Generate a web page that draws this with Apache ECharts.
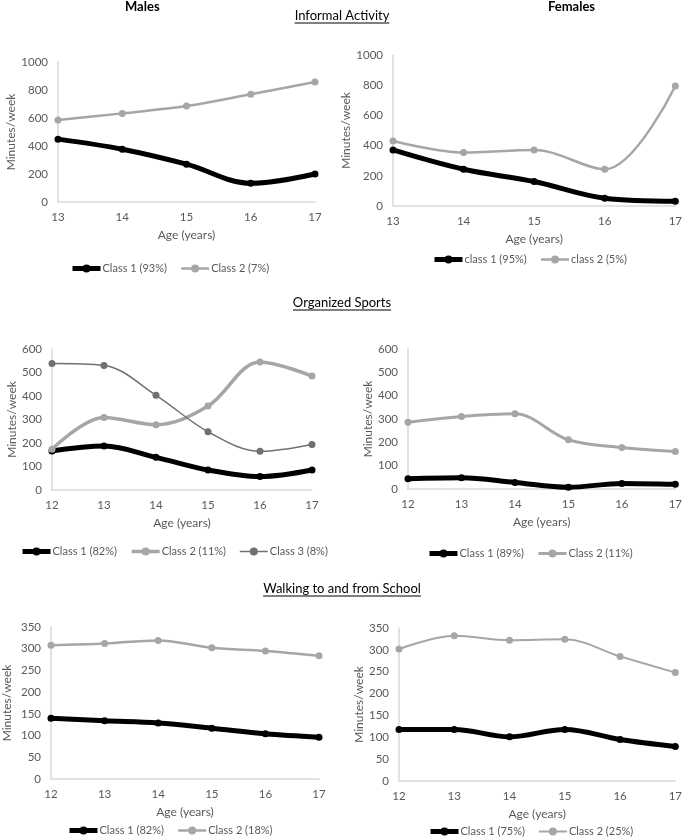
<!DOCTYPE html>
<html>
<head>
<meta charset="utf-8">
<script src="https://cdn.jsdelivr.net/npm/echarts@6/dist/echarts.min.js"></script>
<style>
  html, body { margin: 0; padding: 0; background: #fff; }
  #chart { width: 685px; height: 839px; }
</style>
</head>
<body>
<div id="chart"></div>
<script>
// 年龄类别
const ages13 = ['13', '14', '15', '16', '17']
const ages12 = ['12', '13', '14', '15', '16', '17']

// Informal Activity
const maleInformal1 = [449, 377, 270, 134, 200]
const maleInformal2 = [585, 633, 685, 769, 857]
const femaleInformal1 = [371, 243, 162, 51, 31]
const femaleInformal2 = [430, 354, 371, 243, 795]

// Organized Sports
const maleSports1 = [166, 187, 139, 85, 57, 85]
const maleSports2 = [173, 309, 278, 357, 545, 485]
const maleSports3 = [538, 530, 403, 248, 165, 194]
const femaleSports1 = [44, 48, 28, 7, 24, 20]
const femaleSports2 = [286, 311, 322, 211, 178, 161]

// Walking to and from School
const maleWalk1 = [140, 134, 129, 117, 104, 96]
const maleWalk2 = [308, 312, 319, 302, 295, 284]
const femaleWalk1 = [118, 118, 101, 118, 95, 79]
const femaleWalk2 = [302, 332, 322, 324, 285, 248]

const FONT = 'Lato'
const TXT = '#595959'
const AXIS = '#d9d9d9'

const panels = [
  {grid: {left: 58, top: 62, width: 257, height: 140}, cats: ages13, max: 1000, step: 200, nameGap: 40,
   legend: {left: 70, top: 263},
   series: [
     {name: 'Class 1 (93%)', data: maleInformal1, color: '#000', width: 5},
     {name: 'Class 2 (7%)', data: maleInformal2, color: '#a6a6a6', width: 2.5}
   ]},
  {grid: {left: 393, top: 55, width: 284, height: 151}, cats: ages13, max: 1000, step: 200, nameGap: 29,
   legend: {left: 432, top: 254},
   series: [
     {name: 'class 1 (95%)', data: femaleInformal1, color: '#000', width: 5},
     {name: 'class 2 (5%)', data: femaleInformal2, color: '#a6a6a6', width: 2.5}
   ]},
  {grid: {left: 52, top: 349, width: 260, height: 141}, cats: ages12, max: 600, step: 100, nameGap: 34,
   legend: {left: 20, top: 546},
   series: [
     {name: 'Class 1 (82%)', data: maleSports1, color: '#000', width: 5},
     {name: 'Class 2 (11%)', data: maleSports2, color: '#a6a6a6', width: 3.5},
     {name: 'Class 3 (8%)', data: maleSports3, color: '#707070', width: 1.5}
   ]},
  {grid: {left: 408, top: 349, width: 272, height: 140}, cats: ages12, max: 600, step: 100, nameGap: 34,
   legend: {left: 427, top: 548},
   series: [
     {name: 'Class 1 (89%)', data: femaleSports1, color: '#000', width: 5},
     {name: 'Class 2 (11%) ', data: femaleSports2, color: '#a6a6a6', width: 3}
   ]},
  {grid: {left: 44, top: 627, width: 275, height: 152}, cats: ages12, max: 350, step: 50, nameGap: 38,
   legend: {left: 67, top: 825},
   series: [
     {name: 'Class 1 (82%) ', data: maleWalk1, color: '#000', width: 5},
     {name: 'Class 2 (18%)', data: maleWalk2, color: '#a6a6a6', width: 2.5}
   ]},
  {grid: {left: 399, top: 628, width: 280, height: 153}, cats: ages12, max: 350, step: 50, nameGap: 34,
   legend: {left: 428, top: 826},
   series: [
     {name: 'Class 1 (75%)', data: femaleWalk1, color: '#000', width: 5},
     {name: 'Class 2 (25%)', data: femaleWalk2, color: '#a6a6a6', width: 2}
   ]}
]

const grid = [], xAxis = [], yAxis = [], series = [], legend = []

panels.forEach((p, i) => {
  grid.push(Object.assign({containLabel: false}, p.grid))
  xAxis.push({
    type: 'category', gridIndex: i, data: p.cats, boundaryGap: false,
    name: 'Age (years)', nameLocation: 'middle', nameGap: 27,
    nameTextStyle: {color: TXT, fontFamily: FONT, fontSize: 12},
    axisLine: {lineStyle: {color: AXIS, width: 1.5}},
    axisTick: {show: false},
    axisLabel: {color: TXT, fontFamily: FONT, fontSize: 11.5, margin: 9}
  })
  yAxis.push({
    type: 'value', gridIndex: i, min: 0, max: p.max, interval: p.step,
    name: 'Minutes/week', nameLocation: 'middle', nameGap: p.nameGap,
    nameTextStyle: {color: TXT, fontFamily: FONT, fontSize: 12},
    axisLine: {show: true, lineStyle: {color: AXIS, width: 1.5}},
    axisTick: {show: false},
    splitLine: {show: false},
    axisLabel: {color: TXT, fontFamily: FONT, fontSize: 11.5, margin: 10, formatter: v => String(v)}
  })
  p.series.forEach(s => {
    series.push({
      name: s.name, type: 'line', xAxisIndex: i, yAxisIndex: i,
      data: s.data, smooth: 0.35,
      symbol: 'circle', symbolSize: 7,
      lineStyle: {color: s.color, width: s.width},
      itemStyle: {color: s.color},
      emphasis: {disabled: true}
    })
  })
  legend.push({
    left: p.legend.left, top: p.legend.top, padding: 0,
    data: p.series.map(s => ({
      name: s.name,
      itemStyle: {color: s.color},
      lineStyle: {color: s.color, width: s.width}
    })),
    itemWidth: 28, itemHeight: 10, itemGap: 13,
    textStyle: {color: TXT, fontFamily: FONT, fontSize: 11, padding: [0, 0, 0, -3]},
    formatter: name => name.trim()
  })
})

// 标题（带下划线）
const measure = (text, font) => {
  const ctx = document.createElement('canvas').getContext('2d')
  ctx.font = font
  return ctx.measureText(text).width
}
const headings = [
  {text: 'Informal Activity', y: 17},
  {text: 'Organized Sports', y: 304},
  {text: 'Walking to and from School', y: 590}
]
const graphic = []
headings.forEach(h => {
  const w = measure(h.text, '13px ' + FONT)
  graphic.push({
    type: 'text', left: 342 - w / 2, top: h.y - 8,
    style: {text: h.text, fill: '#000', font: '13px ' + FONT}
  })
  graphic.push({
    type: 'line', shape: {x1: 342 - w / 2, y1: h.y + 6, x2: 342 + w / 2, y2: h.y + 6},
    style: {stroke: '#000', lineWidth: 1}
  })
})
graphic.push({type: 'text', left: 125, top: 0, style: {text: 'Males', fill: '#000', font: 'bold 13px ' + FONT}})
graphic.push({type: 'text', left: 548, top: 0, style: {text: 'Females', fill: '#000', font: 'bold 13px ' + FONT}})

const chart = echarts.init(document.getElementById('chart'), null, {renderer: 'canvas'})
chart.setOption({
  animation: false,
  backgroundColor: '#fff',
  grid, xAxis, yAxis, series, legend, graphic
})
</script>
</body>
</html>
